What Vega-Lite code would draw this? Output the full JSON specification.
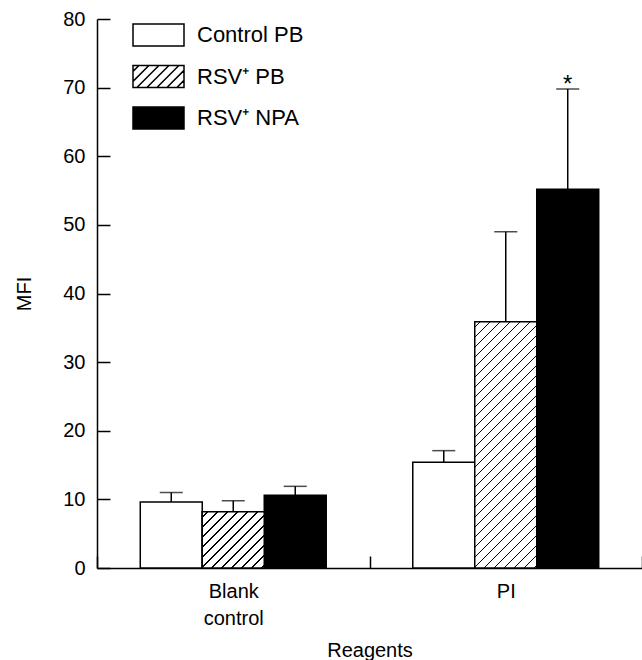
{
  "$schema": "https://vega.github.io/schema/vega-lite/v6.json",
  "width": 545,
  "height": 549,
  "autosize": {"type": "none"},
  "padding": {"left": 97, "top": 19, "right": 0, "bottom": 92},
  "background": "white",
  "config": {
    "view": {"stroke": null},
    "font": "Liberation Sans",
    "axis": {
      "domainColor": "black", "domainWidth": 1.5,
      "tickColor": "black", "tickWidth": 1.5,
      "labelColor": "black", "labelFont": "Liberation Sans", "labelFontSize": 20,
      "titleColor": "black", "titleFont": "Liberation Sans", "titleFontSize": 20, "titleFontWeight": "normal",
      "grid": false
    },
    "legend": {
      "orient": "none", "legendX": 48, "legendY": 2.5, "padding": 0,
      "symbolType": "M-2,-0.862H2V0.862H-2Z", "symbolSize": 650.25,
      "symbolStrokeColor": "black", "symbolStrokeWidth": 1.5,
      "labelFont": "Liberation Sans", "labelFontSize": 22, "labelColor": "black",
      "labelOffset": 25, "rowPadding": 12.5
    }
  },
  "data": {
    "values": [
      {"reagent": "Blank control", "series": "Control PB", "mfi": 9.6, "upper": 11.0, "sig": ""},
      {"reagent": "Blank control", "series": "RSV⁺ PB", "mfi": 8.2, "upper": 9.8, "sig": ""},
      {"reagent": "Blank control", "series": "RSV⁺ NPA", "mfi": 10.6, "upper": 11.9, "sig": ""},
      {"reagent": "PI", "series": "Control PB", "mfi": 15.4, "upper": 17.1, "sig": ""},
      {"reagent": "PI", "series": "RSV⁺ PB", "mfi": 35.9, "upper": 49.0, "sig": ""},
      {"reagent": "PI", "series": "RSV⁺ NPA", "mfi": 55.2, "upper": 69.8, "sig": "*"}
    ]
  },
  "encoding": {
    "x": {
      "field": "reagent", "type": "nominal", "sort": ["Blank control", "PI"],
      "scale": {"paddingInner": 0, "paddingOuter": 0},
      "axis": {
        "title": "Reagents", "labelAngle": 0, "tickBand": "extent", "tickSize": -12,
        "labelPadding": 25, "labelLineHeight": 27,
        "labelExpr": "datum.label == 'Blank control' ? ['Blank', 'control'] : datum.label",
        "titlePadding": 12
      }
    },
    "xOffset": {
      "field": "series", "type": "nominal",
      "scale": {"domain": ["Control PB", "RSV⁺ PB", "RSV⁺ NPA"], "paddingInner": 0, "paddingOuter": 0.698}
    }
  },
  "layer": [
    {
      "mark": {"type": "bar", "stroke": "black", "strokeWidth": 1.5},
      "encoding": {
        "y": {
          "field": "mfi", "type": "quantitative", "title": "MFI",
          "scale": {"domain": [0, 80], "nice": false},
          "axis": {"values": [0, 10, 20, 30, 40, 50, 60, 70, 80], "tickSize": -13, "labelPadding": 25, "titlePadding": 28}
        },
        "fill": {
          "field": "series", "type": "nominal",
          "scale": {"domain": ["Control PB", "RSV⁺ PB", "RSV⁺ NPA"], "range": ["white", "white", "black"]},
          "legend": {
            "title": null,
            "encode": {
              "symbols": {
                "update": {
                  "shape": {"signal": "datum.value === 'RSV⁺ PB' ? 'M-2,-0.862H2V0.862H-2ZM-2,-0.4L-1.538,-0.862M-2,0.384L-0.754,-0.862M-1.694,0.862L0.03,-0.862M-0.91,0.862L0.814,-0.862M-0.126,0.862L1.598,-0.862M0.658,0.862L2,-0.48M1.442,0.862L2,0.304' : 'M-2,-0.862H2V0.862H-2Z'"},
                  "stroke": {"value": "black"},
                  "strokeWidth": {"value": 1.5}
                }
              }
            }
          }
        }
      }
    },
    {
      "transform": [{"filter": "datum.series === 'RSV⁺ PB' && datum.reagent === 'Blank control'"}],
      "mark": {
        "type": "bar", "stroke": "black", "strokeWidth": 1.5,
        "fill": {
          "gradient": "linear", "x1": 0, "y1": 0, "x2": 1.0457, "y2": 0.9496,
          "stops": [
            {"offset": 0, "color": "white"},
            {"offset": 0.04227, "color": "white"}, {"offset": 0.04227, "color": "black"}, {"offset": 0.05325, "color": "black"}, {"offset": 0.05325, "color": "white"},
            {"offset": 0.12680, "color": "white"}, {"offset": 0.12680, "color": "black"}, {"offset": 0.13779, "color": "black"}, {"offset": 0.13779, "color": "white"},
            {"offset": 0.21133, "color": "white"}, {"offset": 0.21133, "color": "black"}, {"offset": 0.22232, "color": "black"}, {"offset": 0.22232, "color": "white"},
            {"offset": 0.29586, "color": "white"}, {"offset": 0.29586, "color": "black"}, {"offset": 0.30685, "color": "black"}, {"offset": 0.30685, "color": "white"},
            {"offset": 0.38039, "color": "white"}, {"offset": 0.38039, "color": "black"}, {"offset": 0.39138, "color": "black"}, {"offset": 0.39138, "color": "white"},
            {"offset": 0.46492, "color": "white"}, {"offset": 0.46492, "color": "black"}, {"offset": 0.47591, "color": "black"}, {"offset": 0.47591, "color": "white"},
            {"offset": 0.54945, "color": "white"}, {"offset": 0.54945, "color": "black"}, {"offset": 0.56044, "color": "black"}, {"offset": 0.56044, "color": "white"},
            {"offset": 0.63398, "color": "white"}, {"offset": 0.63398, "color": "black"}, {"offset": 0.64497, "color": "black"}, {"offset": 0.64497, "color": "white"},
            {"offset": 0.71851, "color": "white"}, {"offset": 0.71851, "color": "black"}, {"offset": 0.72950, "color": "black"}, {"offset": 0.72950, "color": "white"},
            {"offset": 0.80304, "color": "white"}, {"offset": 0.80304, "color": "black"}, {"offset": 0.81403, "color": "black"}, {"offset": 0.81403, "color": "white"},
            {"offset": 0.88757, "color": "white"}, {"offset": 0.88757, "color": "black"}, {"offset": 0.89856, "color": "black"}, {"offset": 0.89856, "color": "white"},
            {"offset": 0.97211, "color": "white"}, {"offset": 0.97211, "color": "black"}, {"offset": 0.98310, "color": "black"}, {"offset": 0.98310, "color": "white"},
            {"offset": 1, "color": "white"}
          ]
        }
      },
      "encoding": {
        "y": {"field": "mfi", "type": "quantitative", "title": "MFI"}
      }
    },
    {
      "transform": [{"filter": "datum.series === 'RSV⁺ PB' && datum.reagent === 'PI'"}],
      "mark": {
        "type": "bar", "stroke": "black", "strokeWidth": 1.5,
        "fill": {
          "gradient": "linear", "x1": 0, "y1": 0, "x2": 0.29618, "y2": 1.17709,
          "stops": [
            {"offset": 0, "color": "white"},
            {"offset": 0.01621, "color": "white"}, {"offset": 0.01621, "color": "black"}, {"offset": 0.02043, "color": "black"}, {"offset": 0.02043, "color": "white"},
            {"offset": 0.04864, "color": "white"}, {"offset": 0.04864, "color": "black"}, {"offset": 0.05285, "color": "black"}, {"offset": 0.05285, "color": "white"},
            {"offset": 0.08106, "color": "white"}, {"offset": 0.08106, "color": "black"}, {"offset": 0.08528, "color": "black"}, {"offset": 0.08528, "color": "white"},
            {"offset": 0.11349, "color": "white"}, {"offset": 0.11349, "color": "black"}, {"offset": 0.11770, "color": "black"}, {"offset": 0.11770, "color": "white"},
            {"offset": 0.14591, "color": "white"}, {"offset": 0.14591, "color": "black"}, {"offset": 0.15013, "color": "black"}, {"offset": 0.15013, "color": "white"},
            {"offset": 0.17834, "color": "white"}, {"offset": 0.17834, "color": "black"}, {"offset": 0.18255, "color": "black"}, {"offset": 0.18255, "color": "white"},
            {"offset": 0.21077, "color": "white"}, {"offset": 0.21077, "color": "black"}, {"offset": 0.21498, "color": "black"}, {"offset": 0.21498, "color": "white"},
            {"offset": 0.24319, "color": "white"}, {"offset": 0.24319, "color": "black"}, {"offset": 0.24740, "color": "black"}, {"offset": 0.24740, "color": "white"},
            {"offset": 0.27562, "color": "white"}, {"offset": 0.27562, "color": "black"}, {"offset": 0.27983, "color": "black"}, {"offset": 0.27983, "color": "white"},
            {"offset": 0.30804, "color": "white"}, {"offset": 0.30804, "color": "black"}, {"offset": 0.31225, "color": "black"}, {"offset": 0.31225, "color": "white"},
            {"offset": 0.34047, "color": "white"}, {"offset": 0.34047, "color": "black"}, {"offset": 0.34468, "color": "black"}, {"offset": 0.34468, "color": "white"},
            {"offset": 0.37289, "color": "white"}, {"offset": 0.37289, "color": "black"}, {"offset": 0.37711, "color": "black"}, {"offset": 0.37711, "color": "white"},
            {"offset": 0.40532, "color": "white"}, {"offset": 0.40532, "color": "black"}, {"offset": 0.40953, "color": "black"}, {"offset": 0.40953, "color": "white"},
            {"offset": 0.43774, "color": "white"}, {"offset": 0.43774, "color": "black"}, {"offset": 0.44196, "color": "black"}, {"offset": 0.44196, "color": "white"},
            {"offset": 0.47017, "color": "white"}, {"offset": 0.47017, "color": "black"}, {"offset": 0.47438, "color": "black"}, {"offset": 0.47438, "color": "white"},
            {"offset": 0.50259, "color": "white"}, {"offset": 0.50259, "color": "black"}, {"offset": 0.50681, "color": "black"}, {"offset": 0.50681, "color": "white"},
            {"offset": 0.53502, "color": "white"}, {"offset": 0.53502, "color": "black"}, {"offset": 0.53923, "color": "black"}, {"offset": 0.53923, "color": "white"},
            {"offset": 0.56744, "color": "white"}, {"offset": 0.56744, "color": "black"}, {"offset": 0.57166, "color": "black"}, {"offset": 0.57166, "color": "white"},
            {"offset": 0.59987, "color": "white"}, {"offset": 0.59987, "color": "black"}, {"offset": 0.60409, "color": "black"}, {"offset": 0.60409, "color": "white"},
            {"offset": 0.63230, "color": "white"}, {"offset": 0.63230, "color": "black"}, {"offset": 0.63651, "color": "black"}, {"offset": 0.63651, "color": "white"},
            {"offset": 0.66472, "color": "white"}, {"offset": 0.66472, "color": "black"}, {"offset": 0.66894, "color": "black"}, {"offset": 0.66894, "color": "white"},
            {"offset": 0.69715, "color": "white"}, {"offset": 0.69715, "color": "black"}, {"offset": 0.70136, "color": "black"}, {"offset": 0.70136, "color": "white"},
            {"offset": 0.72957, "color": "white"}, {"offset": 0.72957, "color": "black"}, {"offset": 0.73379, "color": "black"}, {"offset": 0.73379, "color": "white"},
            {"offset": 0.76200, "color": "white"}, {"offset": 0.76200, "color": "black"}, {"offset": 0.76621, "color": "black"}, {"offset": 0.76621, "color": "white"},
            {"offset": 0.79442, "color": "white"}, {"offset": 0.79442, "color": "black"}, {"offset": 0.79864, "color": "black"}, {"offset": 0.79864, "color": "white"},
            {"offset": 0.82685, "color": "white"}, {"offset": 0.82685, "color": "black"}, {"offset": 0.83106, "color": "black"}, {"offset": 0.83106, "color": "white"},
            {"offset": 0.85927, "color": "white"}, {"offset": 0.85927, "color": "black"}, {"offset": 0.86349, "color": "black"}, {"offset": 0.86349, "color": "white"},
            {"offset": 0.89170, "color": "white"}, {"offset": 0.89170, "color": "black"}, {"offset": 0.89591, "color": "black"}, {"offset": 0.89591, "color": "white"},
            {"offset": 0.92412, "color": "white"}, {"offset": 0.92412, "color": "black"}, {"offset": 0.92834, "color": "black"}, {"offset": 0.92834, "color": "white"},
            {"offset": 0.95655, "color": "white"}, {"offset": 0.95655, "color": "black"}, {"offset": 0.96076, "color": "black"}, {"offset": 0.96076, "color": "white"},
            {"offset": 0.98897, "color": "white"}, {"offset": 0.98897, "color": "black"}, {"offset": 0.99319, "color": "black"}, {"offset": 0.99319, "color": "white"},
            {"offset": 1, "color": "white"}
          ]
        }
      },
      "encoding": {
        "y": {"field": "mfi", "type": "quantitative", "title": "MFI"}
      }
    },
    {
      "mark": {"type": "rule", "color": "black", "strokeWidth": 1.5},
      "encoding": {
        "y": {"field": "mfi", "type": "quantitative", "title": "MFI"},
        "y2": {"field": "upper"}
      }
    },
    {
      "mark": {"type": "tick", "color": "black", "size": 23, "thickness": 1.5},
      "encoding": {
        "y": {"field": "upper", "type": "quantitative", "title": "MFI"}
      }
    },
    {
      "transform": [{"filter": "datum.sig === '*'"}],
      "mark": {"type": "text", "color": "black", "font": "Liberation Sans", "fontSize": 24, "baseline": "alphabetic", "dy": 3},
      "encoding": {
        "y": {"field": "upper", "type": "quantitative", "title": "MFI"},
        "text": {"field": "sig"}
      }
    }
  ]
}
